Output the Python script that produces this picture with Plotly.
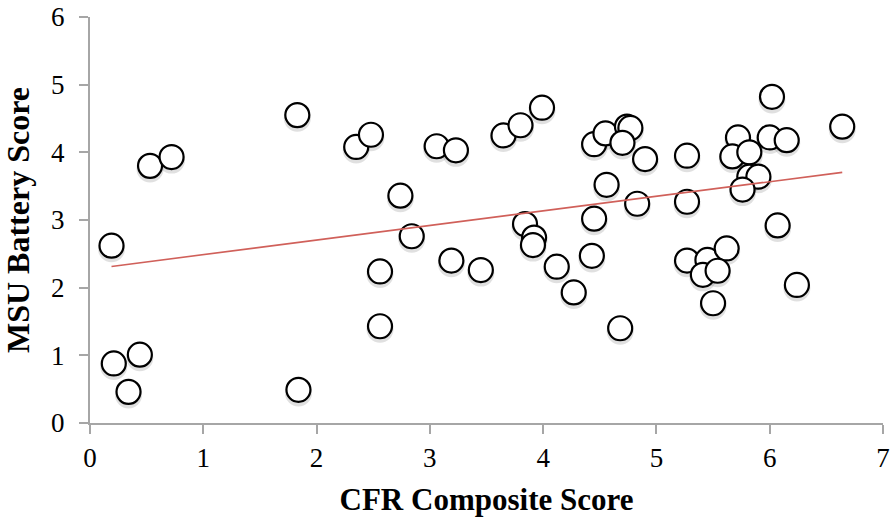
import numpy as np
import plotly.graph_objects as go

cfr_score = [0.19, 0.21, 0.44, 0.34, 0.53, 0.72, 1.83, 1.84, 2.35, 2.48,
             3.06, 3.23, 2.74, 2.84, 3.65, 3.80, 3.99, 3.84, 3.92, 3.91,
             2.56, 2.56, 3.19, 3.45, 4.12, 4.27, 4.43, 4.45, 4.55, 4.74,
             4.77, 4.70, 4.90, 5.27, 4.56, 4.83, 4.45, 5.27, 6.02, 6.64,
             5.72, 6.00, 6.15, 5.67, 5.82, 5.82, 5.90, 5.76, 6.07, 5.27,
             5.45, 5.62, 5.41, 5.54, 5.50, 6.24, 4.68]
msu_score = [2.62, 0.88, 1.01, 0.46, 3.80, 3.93, 4.55, 0.49, 4.08, 4.26,
             4.09, 4.03, 3.36, 2.76, 4.25, 4.40, 4.66, 2.94, 2.74, 2.63,
             2.24, 1.43, 2.40, 2.26, 2.31, 1.93, 2.47, 4.12, 4.28, 4.38,
             4.36, 4.14, 3.90, 3.95, 3.52, 3.24, 3.02, 3.27, 4.82, 4.38,
             4.22, 4.22, 4.18, 3.94, 4.00, 3.64, 3.64, 3.45, 2.92, 2.40,
             2.41, 2.58, 2.19, 2.25, 1.77, 2.04, 1.40]

x_ticks = [0, 1, 2, 3, 4, 5, 6, 7]
y_ticks = [0, 1, 2, 3, 4, 5, 6]

x = np.array(cfr_score)
y = np.array(msu_score)
slope, intercept = np.polyfit(x, y, 1)
trend_x = np.array([x.min(), x.max()])
trend_y = slope * trend_x + intercept

serif = "Liberation Serif, Times New Roman, serif"

fig = go.Figure()

# soft drop shadow under each circle (style offset only)
shadow_dy = 0.045
fig.add_trace(go.Scatter(
    x=x, y=y - shadow_dy, mode="markers",
    marker=dict(size=27, color="rgba(0,0,0,0.12)", line=dict(width=0)),
    hoverinfo="skip", showlegend=False))

fig.add_trace(go.Scatter(
    x=cfr_score, y=msu_score, mode="markers",
    marker=dict(size=24, color="white", line=dict(color="black", width=2.2)),
    showlegend=False))

fig.add_trace(go.Scatter(
    x=trend_x, y=trend_y, mode="lines",
    line=dict(color="#d0605a", width=1.6), showlegend=False))

axis_common = dict(
    showgrid=False, zeroline=False, showline=True, linecolor="#a6a6a6",
    linewidth=2, ticks="outside", tickcolor="#a6a6a6", ticklen=9, tickwidth=2,
    tickfont=dict(family=serif, size=27, color="black"),
    automargin=False,
)

fig.update_layout(
    width=890, height=519,
    margin=dict(l=90, r=7, t=17, b=96),
    paper_bgcolor="white", plot_bgcolor="white",
    xaxis=dict(range=[0, 7], tickvals=x_ticks, **axis_common,
               ticklabelstandoff=1,
               title=dict(text="<b>CFR Composite Score</b>",
                          font=dict(family=serif, size=31, color="black"),
                          standoff=16)),
    yaxis=dict(range=[0, 6], tickvals=y_ticks, **axis_common,
               ticklabelstandoff=9,
               title=dict(text="<b>MSU Battery Score</b>",
                          font=dict(family=serif, size=32, color="black"),
                          standoff=12)),
)

fig.write_html("out.html")
